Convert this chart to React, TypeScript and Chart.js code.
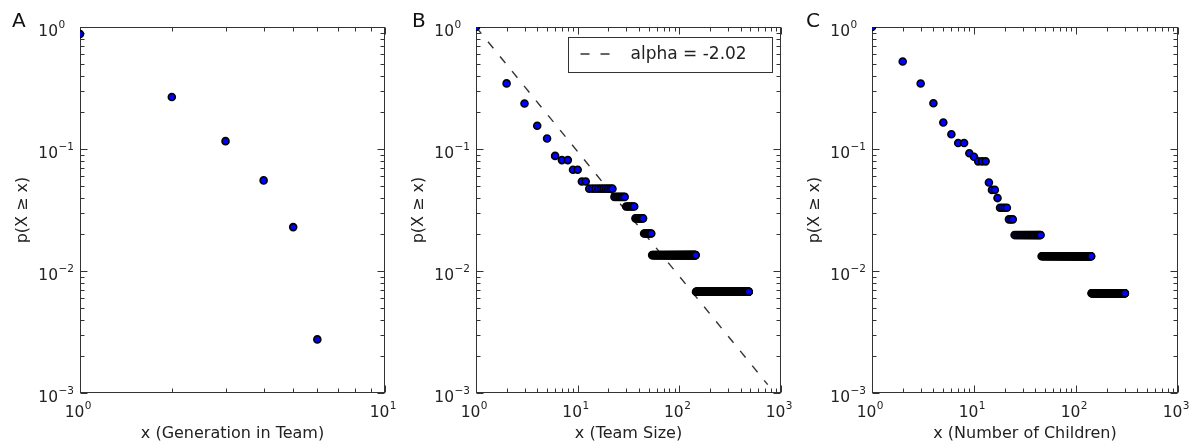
import React, { useEffect, useRef } from 'react';
import { Chart, registerables } from 'chart.js';

Chart.register(...registerables);
Chart.defaults.font.family = '"DejaVu Sans", sans-serif';

// ---------- DATA ----------
// Panel A: generation in team (CCDF)
const genX = [1, 2, 3, 4, 5, 6];
const genP = [0.875, 0.267, 0.116, 0.0553, 0.0229, 0.00275];

// Panel B: team size CCDF, given as runs of equal p (x from start to end, integer steps)
const teamRunStart = [1, 2, 3, 4, 5, 6, 7, 9, 11, 13, 23, 30, 37, 45, 54, 146];
const teamRunEnd = [1, 2, 3, 4, 5, 6, 8, 10, 12, 22, 29, 36, 44, 53, 145, 482];
const teamRunP = [1.0, 0.345, 0.236, 0.155, 0.122, 0.0878, 0.0811, 0.0676, 0.0541, 0.0473, 0.0405, 0.0338, 0.027, 0.0203, 0.0135, 0.00676];

// Power-law fit line in panel B
const fitX = [1, 740];
const fitP = [1.0, 0.00117];
const fitLabel = 'alpha = -2.02';

// Panel C: number of children CCDF, runs of equal p
const childRunStart = [1, 2, 3, 4, 5, 6, 7, 9, 10, 11, 14, 15, 17, 18, 22, 25, 46, 142];
const childRunEnd = [1, 2, 3, 4, 5, 6, 8, 9, 10, 13, 14, 16, 17, 21, 24, 45, 141, 302];
const childRunP = [1.0, 0.522, 0.344, 0.237, 0.165, 0.132, 0.112, 0.0923, 0.0865, 0.0792, 0.0532, 0.0462, 0.0396, 0.033, 0.0265, 0.0197, 0.0132, 0.00658];

// Axis tick label exponents
const xExpA = [0, 1];
const xExpBC = [0, 1, 2, 3];
const yExp = [0, -1, -2, -3];

const yTitle = 'p(X \u2265 x)';
const xTitles = ['x (Generation in Team)', 'x (Team Size)', 'x (Number of Children)'];
const letters = ['A', 'B', 'C'];

// ---------- helpers ----------
type Pt = { x: number; y: number };
function expandRuns(start: number[], end: number[], p: number[]): Pt[] {
  const pts: Pt[] = [];
  start.forEach((s, i) => {
    for (let x = s; x <= end[i]; x++) pts.push({ x, y: p[i] });
  });
  return pts;
}

const FONT = '"DejaVu Sans", sans-serif';
const TEXT = '#222';
const FRAME = '#333';

function drawPow(ctx: CanvasRenderingContext2D, exp: number, x: number, baseline: number, mode: 'center' | 'right') {
  const base = '10';
  const e = exp < 0 ? '\u2212' + Math.abs(exp) : String(exp);
  ctx.font = `15.5px ${FONT}`;
  const w1 = ctx.measureText(base).width;
  let bx: number;
  if (mode === 'center') bx = x - 5.5 - w1 / 2;
  else bx = x - w1;
  ctx.fillStyle = TEXT;
  ctx.textAlign = 'left';
  ctx.textBaseline = 'alphabetic';
  ctx.fillText(base, bx, baseline);
  ctx.font = `10.5px ${FONT}`;
  ctx.fillText(e, bx + w1 + 0.5, baseline - 8);
}

type Spec = {
  idx: number;
  left: number;
  width: number;
  padL: number;
  padR: number;
  xMax: number;
  xExps: number[];
  letterX: number;
  points: Pt[];
  fit?: Pt[];
};

function makePlugin(spec: Spec) {
  return {
    id: 'frameTicks' + spec.idx,
    beforeDatasetsDraw(chart: any) {
      const { ctx, chartArea: a, scales } = chart;
      const xs = scales.x;
      const ys = scales.y;
      ctx.save();
      ctx.strokeStyle = FRAME;
      ctx.lineWidth = 1;
      const L = Math.round(a.left) + 0.5;
      const R = Math.round(a.right) - 0.5;
      const T = Math.round(a.top) + 0.5;
      const B = Math.round(a.bottom) - 0.5;
      ctx.strokeRect(L, T, R - L, B - T);
      ctx.beginPath();
      const xe1 = Math.round(Math.log10(spec.xMax));
      for (let e = 0; e <= xe1; e++) {
        for (let m = 1; m <= 9; m++) {
          const v = m * Math.pow(10, e);
          if (v > spec.xMax * 1.0001) break;
          const px = Math.round(xs.getPixelForValue(v)) + 0.5;
          const len = m === 1 ? 7 : 4;
          ctx.moveTo(px, B);
          ctx.lineTo(px, B - len);
          ctx.moveTo(px, T);
          ctx.lineTo(px, T + len);
        }
      }
      for (let e = -3; e <= 0; e++) {
        for (let m = 1; m <= 9; m++) {
          const v = m * Math.pow(10, e);
          if (v > 1.0001) break;
          const py = Math.round(ys.getPixelForValue(v)) + 0.5;
          const len = m === 1 ? 7 : 4;
          ctx.moveTo(L, py);
          ctx.lineTo(L + len, py);
          ctx.moveTo(R, py);
          ctx.lineTo(R - len, py);
        }
      }
      ctx.stroke();
      ctx.restore();
    },
    afterDatasetsDraw(chart: any) {
      const { ctx, chartArea: a, scales } = chart;
      ctx.save();
      spec.xExps.forEach((e) => {
        const px = scales.x.getPixelForValue(Math.pow(10, e));
        drawPow(ctx, e, px, a.bottom + 24, 'center');
      });
      yExp.forEach((e) => {
        const py = scales.y.getPixelForValue(Math.pow(10, e));
        drawPow(ctx, e, a.left - 22, py + 8.5, 'right');
      });
      ctx.font = `20px ${FONT}`;
      ctx.fillStyle = '#111';
      ctx.textAlign = 'left';
      ctx.textBaseline = 'alphabetic';
      ctx.fillText(letters[spec.idx], spec.letterX, 27);
      if (spec.fit) {
        const bw = 204;
        const bh = 35;
        const bx = Math.round(a.right - 9 - bw) + 0.5;
        const by = Math.round(a.top + 10) + 0.5;
        ctx.fillStyle = '#fff';
        ctx.fillRect(bx, by, bw, bh);
        ctx.strokeStyle = FRAME;
        ctx.lineWidth = 1;
        ctx.strokeRect(bx, by, bw, bh);
        ctx.beginPath();
        ctx.setLineDash([9, 11]);
        ctx.strokeStyle = '#333';
        ctx.lineWidth = 1.4;
        ctx.moveTo(bx + 12, by + 16.5);
        ctx.lineTo(bx + 42, by + 16.5);
        ctx.stroke();
        ctx.setLineDash([]);
        ctx.font = `17px ${FONT}`;
        ctx.fillStyle = TEXT;
        ctx.fillText(fitLabel, bx + 62, by + 21.5);
      }
      ctx.restore();
    },
  };
}

function Panel({ spec }: { spec: Spec }) {
  const ref = useRef<HTMLCanvasElement>(null);
  useEffect(() => {
    const datasets: any[] = [
      {
        data: spec.points,
        pointRadius: 3.5,
        pointBorderWidth: 1.6,
        pointBorderColor: '#000',
        pointBackgroundColor: '#0000ff',
        showLine: false,
        clip: 0,
      },
    ];
    if (spec.fit) {
      datasets.push({
        data: spec.fit,
        showLine: true,
        borderColor: '#333',
        borderWidth: 1.4,
        borderDash: [8.5, 10.5],
        pointRadius: 0,
        fill: false,
        clip: 0,
      });
    }
    const chart = new Chart(ref.current as HTMLCanvasElement, {
      type: 'scatter',
      data: { datasets },
      options: {
        animation: false,
        responsive: false,
        maintainAspectRatio: false,
        devicePixelRatio: 1,
        layout: { padding: { left: spec.padL, right: spec.padR, top: 27, bottom: 0 } },
        plugins: { legend: { display: false }, tooltip: { enabled: false } },
        events: [],
        scales: {
          x: {
            type: 'logarithmic',
            min: 1,
            max: spec.xMax,
            grid: { display: false, drawTicks: false },
            border: { display: false },
            ticks: { display: false },
            title: {
              display: true,
              text: xTitles[spec.idx],
              color: TEXT,
              font: { family: FONT, size: 16 },
              padding: { top: 0, bottom: 2 },
            },
            afterFit: (s: any) => {
              s.height = 52;
            },
          },
          y: {
            type: 'logarithmic',
            min: 0.001,
            max: 1,
            grid: { display: false, drawTicks: false },
            border: { display: false },
            ticks: { display: false },
            title: {
              display: true,
              text: yTitle,
              color: TEXT,
              font: { family: FONT, size: 16 },
              padding: { top: 3.4, bottom: 0 },
            },
            afterFit: (s: any) => {
              s.width = 70;
            },
          },
        },
      } as any,
      plugins: [makePlugin(spec)],
    });
    return () => chart.destroy();
  }, []);
  return (
    <canvas
      ref={ref}
      width={spec.width}
      height={445}
      style={{ position: 'absolute', left: spec.left, top: 0, width: spec.width, height: 445, display: 'block' }}
    />
  );
}

const specs: Spec[] = [
  {
    idx: 0,
    left: 0,
    width: 400,
    padL: 10,
    padR: 15,
    xMax: 10,
    xExps: xExpA,
    letterX: 12,
    points: genX.map((x, i) => ({ x, y: genP[i] })),
  },
  {
    idx: 1,
    left: 400,
    width: 400,
    padL: 6,
    padR: 19,
    xMax: 1000,
    xExps: xExpBC,
    letterX: 12,
    points: expandRuns(teamRunStart, teamRunEnd, teamRunP),
    fit: fitX.map((x, i) => ({ x, y: fitP[i] })),
  },
  {
    idx: 2,
    left: 800,
    width: 397,
    padL: 2,
    padR: 19,
    xMax: 1000,
    xExps: xExpBC,
    letterX: 6,
    points: expandRuns(childRunStart, childRunEnd, childRunP),
  },
];

export default function App() {
  return (
    <div style={{ position: 'absolute', left: 0, top: 0, width: 1197, height: 445, background: '#fff', overflow: 'hidden' }}>
      {specs.map((s) => (
        <Panel key={s.idx} spec={s} />
      ))}
    </div>
  );
}
